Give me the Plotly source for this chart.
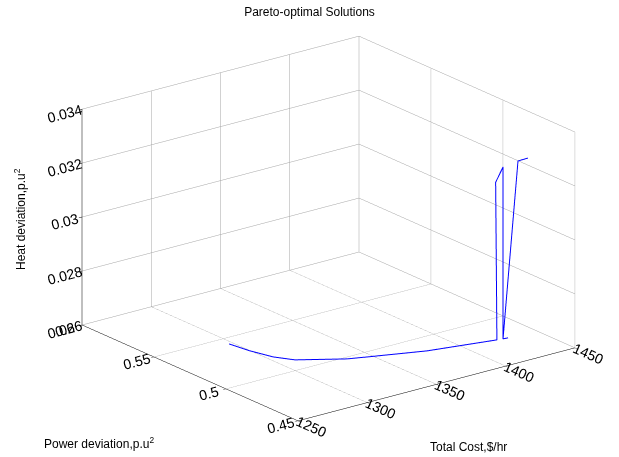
import plotly.graph_objects as go

# Data
total_cost = [1295.9, 1298.3, 1302.6, 1309.5, 1334.1, 1345.6, 1378.5, 1421.4,
              1420.5, 1425.2, 1425.2, 1428.5, 1425.2, 1435.9, 1440.7]
power_dev = [0.5420, 0.5298, 0.5179, 0.5093, 0.4968, 0.4934, 0.4840, 0.4767,
             0.4767, 0.4761, 0.4761, 0.4758, 0.4761, 0.4760, 0.4737]
heat_dev = [0.02605, 0.02605, 0.02605, 0.02605, 0.02605, 0.02605, 0.02605, 0.02605,
            0.03190, 0.03242, 0.02605, 0.02605, 0.02605, 0.03250, 0.03260]

x_ticks = [1250, 1300, 1350, 1400, 1450]
y_ticks = [0.45, 0.5, 0.55, 0.6]
y_tick_text = ["0.45", "0.5", "0.55", "0.6"]
z_ticks = [0.026, 0.028, 0.030, 0.032, 0.034]
z_tick_text = ["0.026", "0.028", "0.03", "0.032", "0.034"]

FONT = "Liberation Sans, Arial, Helvetica"
S = 1.53

fig = go.Figure()
fig.add_trace(go.Scatter3d(
    x=total_cost, y=power_dev, z=heat_dev,
    mode="lines",
    line=dict(color="#0000ff", width=2),
    showlegend=False,
))

axis_common = dict(
    showbackground=False,
    gridcolor="#a4a4a4",
    gridwidth=1,
    showline=True,
    linecolor="black",
    linewidth=1,
    zeroline=False,
    showspikes=False,
    ticks="outside",
    ticklen=4,
    tickcolor="black",
    tickfont=dict(family=FONT, size=13, color="black"),
    title=dict(text=""),
)

fig.update_layout(
    width=619, height=457,
    paper_bgcolor="white",
    margin=dict(l=0, r=0, t=0, b=0),
    title=dict(text="Pareto-optimal Solutions", x=0.5, y=0.975, xanchor="center", yanchor="middle",
               font=dict(family=FONT, size=12, color="black")),
    font=dict(family=FONT, size=12, color="black"),
    scene=dict(
        domain=dict(x=[0.062, 1.0], y=[0, 1]),
        xaxis=dict(axis_common, range=[1250, 1450], tickvals=x_ticks),
        yaxis=dict(axis_common, range=[0.45, 0.6], tickvals=y_ticks, ticktext=y_tick_text),
        zaxis=dict(axis_common, range=[0.026, 0.034], tickvals=z_ticks, ticktext=z_tick_text),
        aspectmode="manual",
        aspectratio=dict(x=1 * S, y=1.012 * S, z=0.657 * S),
        camera=dict(
            projection=dict(type="orthographic"),
            eye=dict(x=-0.5736 * 2.5, y=-0.7444 * 2.5, z=0.342 * 2.5),
            up=dict(x=0, y=0, z=1),
            center=dict(x=0, y=0, z=0),
        ),
    ),
    annotations=[
        dict(text="Total Cost,$/hr", x=468 / 619, y=1 - 447 / 457, xref="paper", yref="paper",
             showarrow=False, xanchor="center", yanchor="middle", font=dict(family=FONT, size=12)),
        dict(text="Power deviation,p.u<sup>2</sup>", x=99 / 619, y=1 - 443 / 457, xref="paper", yref="paper",
             showarrow=False, xanchor="center", yanchor="middle", font=dict(family=FONT, size=12)),
        dict(text="Heat deviation,p.u<sup>2</sup>", x=20 / 619, y=1 - 219 / 457, xref="paper", yref="paper",
             showarrow=False, xanchor="center", yanchor="middle", textangle=-90, font=dict(family=FONT, size=12)),
    ],
)

fig.write_html("out.html")
